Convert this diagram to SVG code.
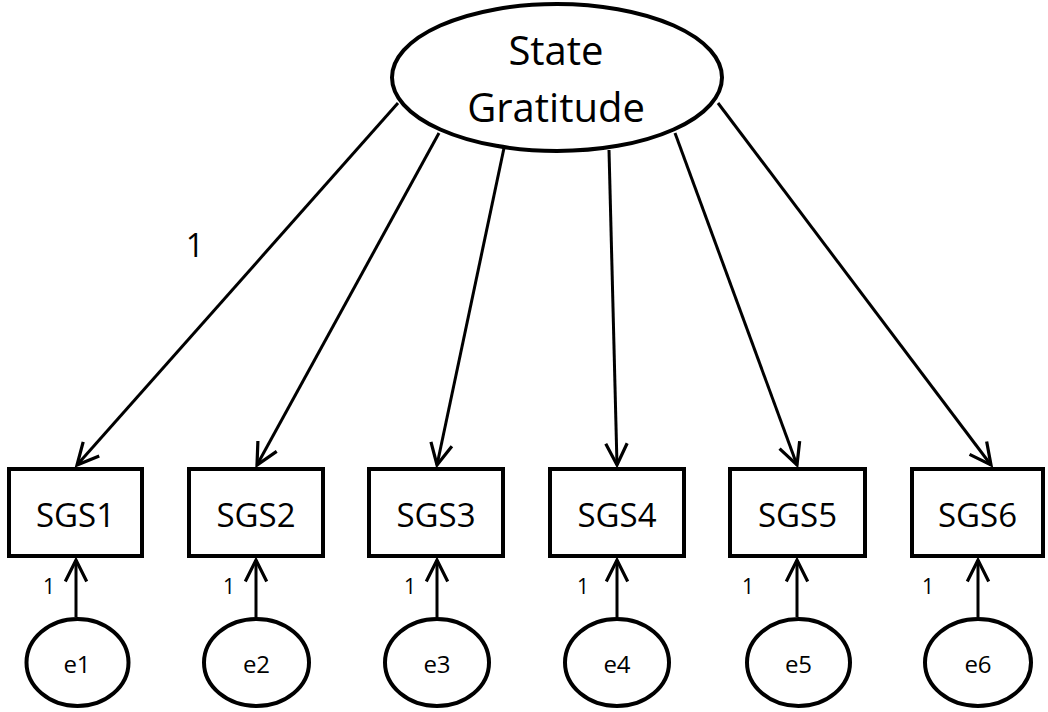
<svg xmlns="http://www.w3.org/2000/svg" width="1048" height="712" viewBox="0 0 1048 712">
<style>
.shape{fill:#fff;stroke:#000;stroke-width:4}
.edge{fill:none;stroke:#000;stroke-width:3;marker-end:url(#arr)}
text{font-family:"Open Sans","Liberation Sans",sans-serif;fill:#000;text-anchor:middle}
.big{font-size:40px}
.box{font-size:33px}
.err{font-size:24px}
.w{font-size:21px}
.w1{font-size:32px}
</style>
<defs>
<marker id="arr" markerUnits="userSpaceOnUse" markerWidth="30" markerHeight="30" viewBox="-24 -13 28 26" refX="0" refY="0" orient="auto">
<path d="M-20,-10 L0,0 L-20,10" fill="none" stroke="#000" stroke-width="3"/>
</marker>
</defs>
<rect width="1048" height="712" fill="#fff"/>
<g id="connectors">
<line class="edge" x1="398" y1="103" x2="77" y2="465"/>
<line class="edge" x1="439" y1="133" x2="257" y2="465"/>
<line class="edge" x1="504" y1="148" x2="437" y2="465"/>
<line class="edge" x1="609" y1="150" x2="617" y2="465"/>
<line class="edge" x1="675" y1="133" x2="797" y2="465"/>
<line class="edge" x1="718" y1="103" x2="991" y2="465"/>
<line class="edge" x1="76" y1="617" x2="76" y2="560"/>
<line class="edge" x1="256" y1="617" x2="256" y2="560"/>
<line class="edge" x1="437" y1="617" x2="437" y2="560"/>
<line class="edge" x1="617" y1="617" x2="617" y2="560"/>
<line class="edge" x1="797" y1="617" x2="797" y2="560"/>
<line class="edge" x1="978" y1="617" x2="978" y2="560"/>
<text class="w1" x="195" y="257">1</text>
<text class="w" x="49" y="594">1</text>
<text class="w" x="229" y="594">1</text>
<text class="w" x="410" y="594">1</text>
<text class="w" x="583" y="594">1</text>
<text class="w" x="748" y="594">1</text>
<text class="w" x="928" y="594">1</text>
</g>
<g id="StateGratitude">
<ellipse class="shape" cx="557" cy="77.5" rx="165" ry="73.5"/>
<text class="big" x="556" y="65">State</text>
<text class="big" x="556" y="122">Gratitude</text>
</g>
<g id="SGS1"><rect class="shape" x="9" y="469" width="133" height="87"/><text class="box" x="75.5" y="527">SGS1</text></g>
<g id="SGS2"><rect class="shape" x="189" y="469" width="134" height="87"/><text class="box" x="256" y="527">SGS2</text></g>
<g id="SGS3"><rect class="shape" x="369" y="469" width="134" height="87"/><text class="box" x="436" y="527">SGS3</text></g>
<g id="SGS4"><rect class="shape" x="550" y="469" width="134" height="87"/><text class="box" x="617" y="527">SGS4</text></g>
<g id="SGS5"><rect class="shape" x="730" y="469" width="135" height="87"/><text class="box" x="797.5" y="527">SGS5</text></g>
<g id="SGS6"><rect class="shape" x="912" y="469" width="131" height="87"/><text class="box" x="977.5" y="527">SGS6</text></g>
<g id="e1"><ellipse class="shape" cx="77.5" cy="662.5" rx="51" ry="43.5"/><text class="err" x="77" y="673">e1</text></g>
<g id="e2"><ellipse class="shape" cx="256.5" cy="662.5" rx="52.5" ry="43.5"/><text class="err" x="256.5" y="673">e2</text></g>
<g id="e3"><ellipse class="shape" cx="437" cy="662.5" rx="52" ry="43.5"/><text class="err" x="437" y="673">e3</text></g>
<g id="e4"><ellipse class="shape" cx="617" cy="662.5" rx="52" ry="43.5"/><text class="err" x="617" y="673">e4</text></g>
<g id="e5"><ellipse class="shape" cx="798.5" cy="662.5" rx="51.5" ry="43.5"/><text class="err" x="798.5" y="673">e5</text></g>
<g id="e6"><ellipse class="shape" cx="978" cy="662.5" rx="53" ry="43.5"/><text class="err" x="978" y="673">e6</text></g>
</svg>
